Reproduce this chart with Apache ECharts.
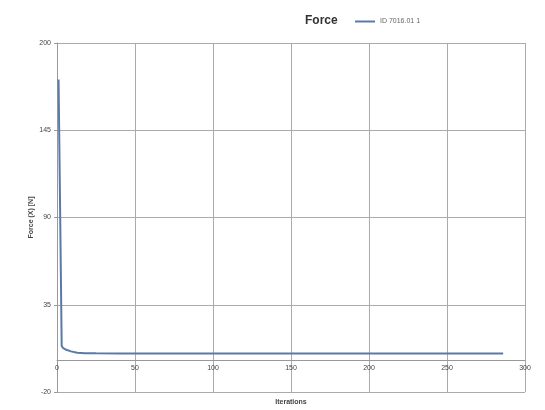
<!DOCTYPE html>
<html>
<head>
<meta charset="utf-8">
<script src="https://cdn.jsdelivr.net/npm/echarts@6/dist/echarts.min.js"></script>
<style>
  html, body { margin: 0; padding: 0; background: #fff; }
  #chart { width: 545px; height: 410px; }
</style>
</head>
<body>
<div id="chart"></div>
<script>
// iterations and force values
const iterations = [1, 2, 3, 4, 6, 9, 13, 18, 25, 40, 80, 150, 220, 286];
const force = [177, 95, 9, 7.6, 6.6, 5.6, 4.8, 4.5, 4.4, 4.3, 4.3, 4.3, 4.3, 4.3];
const seriesName = 'ID 7016.01 1';

const chart = echarts.init(document.getElementById('chart'));
chart.setOption({
  animation: false,
  backgroundColor: '#fff',
  title: {
    text: 'Force',
    left: 300, top: 10,
    textStyle: { fontSize: 12, fontWeight: 'bold', color: '#333', fontFamily: 'Liberation Sans' }
  },
  legend: {
    left: 350, top: 13,
    itemWidth: 20, itemHeight: 2, icon: 'rect',
    textStyle: { fontSize: 7, color: '#666' },
    data: [seriesName]
  },
  grid: { left: 57, right: 20, top: 43, bottom: 18, outerBoundsMode: 'none', containLabel: false },
  xAxis: {
    type: 'value', min: 0, max: 300, interval: 50,
    name: 'Iterations', nameLocation: 'middle', nameGap: 7,
    nameTextStyle: { fontSize: 7, color: '#444', fontWeight: 'bold' },
    axisLine: { onZero: true, lineStyle: { color: '#999' } },
    axisTick: { show: false },
    axisLabel: { fontSize: 7, color: '#444', margin: -27 },
    splitLine: { lineStyle: { color: '#aaa' } }
  },
  yAxis: {
    type: 'value', min: -20, max: 200, interval: 55,
    name: 'Force (X) [N]', nameLocation: 'middle', nameGap: 22, nameMoveOverlap: false,
    nameTextStyle: { fontSize: 7, color: '#444', fontWeight: 'bold' },
    axisLine: { show: true, lineStyle: { color: '#999' } },
    axisTick: { show: true, length: 3 },
    axisLabel: { fontSize: 7, color: '#444', margin: 6 },
    splitLine: { lineStyle: { color: '#aaa' } }
  },
  series: [{
    name: seriesName,
    type: 'line',
    showSymbol: false,
    data: iterations.map((x, i) => [x, force[i]]),
    lineStyle: { color: '#5a7aa6', width: 2 },
    itemStyle: { color: '#5a7aa6' }
  }]
});
</script>
</body>
</html>
